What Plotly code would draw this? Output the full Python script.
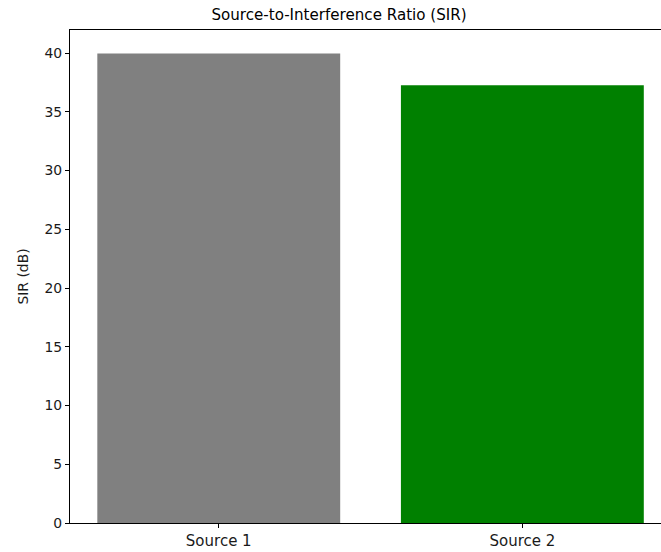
import plotly.graph_objects as go

categories = ["Source 1", "Source 2"]
sir_values = [39.96, 37.25]
bar_colors = ["#808080", "#008000"]
y_ticks = [0, 5, 10, 15, 20, 25, 30, 35, 40]

W, H = 661, 552
L, R, T, B = 70, 0, 30, 29
x_pos = list(range(len(categories)))

fig = go.Figure()
fig.add_trace(go.Bar(
    x=x_pos, y=sir_values, width=0.8,
    marker=dict(color=bar_colors, line=dict(width=0)),
    hoverinfo="y",
))

font = dict(family="DejaVu Sans", size=13.9, color="#1a1a1a")
xfont = dict(family="DejaVu Sans", size=15, color="#1a1a1a")
plot_w = W - L - R
unit = 303.6
x0 = -0.49
x1 = x0 + plot_w / unit

fig.update_layout(
    width=W, height=H,
    margin=dict(l=L, r=R, t=T, b=B, autoexpand=False),
    plot_bgcolor="white", paper_bgcolor="white",
    showlegend=False,
    font=font,
    title=dict(
        text="Source-to-Interference Ratio (SIR)",
        font=dict(family="DejaVu Sans", size=15.1, color="#000000"),
        x=339 / W, xref="container", xanchor="center",
        y=1 - 15 / H, yref="container", yanchor="middle",
    ),
    xaxis=dict(
        range=[x0, x1], automargin=False,
        tickvals=x_pos, ticktext=categories,
        showline=True, linecolor="black", linewidth=1.2, mirror=True,
        ticks="outside", ticklen=4, tickcolor="black",
        showgrid=False, zeroline=False,
        tickfont=xfont,
    ),
    yaxis=dict(
        range=[0, 41.96], automargin=False,
        tickvals=y_ticks,
        showline=True, linecolor="black", linewidth=1.2, mirror=False,
        ticks="outside", ticklen=4, tickcolor="black",
        showgrid=False, zeroline=False,
        tickfont=font,
        title=dict(text="SIR (dB)", font=font, standoff=12),
    ),
)

fig.write_html(
    "out.html",
    config={"displayModeBar": False},
    post_script="document.body.style.margin='0px';",
)
